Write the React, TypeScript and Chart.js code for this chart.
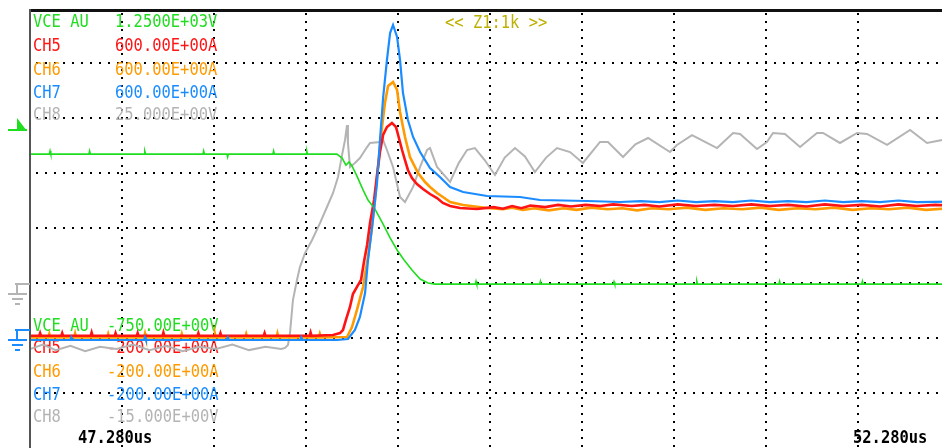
import React, { useEffect, useRef } from "react";
import { Chart, registerables } from "chart.js";

Chart.register(...registerables);

// ---------- data (time in µs, values in channel units) ----------
const timeWindowUs = [47.28, 52.28];
const timeLabels = ["47.280us", "52.280us"];
const vceRange = [-750, 1250];
const currentRange = [-200, 600];
const ch8Range = [-15, 25];
const zoomLabel = "<< Z1:1k >>";

const channelNames = ["VCE AU", "CH5", "CH6", "CH7", "CH8"];
const topScaleLabels = ["1.2500E+03V", "600.00E+00A", "600.00E+00A", "600.00E+00A", "25.000E+00V"];
const bottomScaleLabels = ["-750.00E+00V", "-200.00E+00A", "-200.00E+00A", "-200.00E+00A", "-15.000E+00V"];

const vceTrace = [
  [47.28, 586], [47.385, 586], [47.389, 600], [47.393, 586],
  [47.60, 586], [47.604, 600], [47.608, 586],
  [47.90, 586], [47.904, 598], [47.908, 586],
  [48.22, 586], [48.224, 600], [48.228, 586],
  [48.35, 586], [48.354, 573], [48.358, 586],
  [48.60, 586], [48.604, 600], [48.608, 586],
  [48.78, 586], [48.784, 600], [48.788, 586],
  [48.948, 586], [48.976, 568], [48.997, 536], [49.014, 550], [49.030, 532],
  [49.057, 486], [49.090, 423], [49.117, 377], [49.155, 336], [49.199, 268],
  [49.237, 205], [49.275, 150], [49.313, 105], [49.356, 59], [49.400, 18],
  [49.443, 0], [49.481, -5],
  [49.70, -5], [49.704, 8], [49.708, -5],
  [50.05, -5], [50.054, 8], [50.058, -5],
  [50.45, -5], [50.454, 6], [50.458, -5],
  [50.90, -5], [50.904, 8], [50.908, -5],
  [51.35, -5], [51.354, 8], [51.358, -5],
  [51.80, -5], [51.804, 8], [51.808, -5],
  [52.28, -5],
];

const ch5Trace = [
  [47.28, 4], [47.33, 4], [47.335, 9], [47.34, 4], [47.45, 4], [47.455, 9], [47.46, 4],
  [47.61, 4], [47.615, 10], [47.62, 4], [47.74, 4], [47.745, 9], [47.75, 4],
  [47.86, 4], [47.865, 9], [47.87, 4], [48.00, 4], [48.005, 10], [48.01, 4],
  [48.19, 4], [48.195, 9], [48.20, 4], [48.31, 4], [48.315, 9], [48.32, 4],
  [48.55, 4], [48.555, 9], [48.56, 4], [48.80, 4], [48.805, 10], [48.81, 4],
  [48.927, 5.5], [48.965, 9], [48.981, 14.6], [48.997, 32.8], [49.019, 56.4],
  [49.035, 80], [49.057, 92.8], [49.079, 105.5], [49.095, 138.2], [49.112, 169.1],
  [49.128, 209.1], [49.150, 251], [49.166, 296.4], [49.182, 338.2], [49.199, 369.1],
  [49.220, 383.7], [49.247, 391], [49.269, 383.7], [49.285, 363.6], [49.302, 341.8],
  [49.318, 323.6], [49.334, 305.5], [49.356, 290.9], [49.383, 280], [49.416, 270.9],
  [49.454, 261.8], [49.492, 254.5], [49.524, 245.5], [49.563, 240], [49.617, 236.4],
  [49.709, 234.5],
  [49.80, 238], [49.85, 235], [49.90, 240], [49.95, 236], [50.00, 241], [50.08, 238],
  [50.15, 242], [50.22, 239], [50.30, 242], [50.38, 240], [50.45, 243], [50.55, 240],
  [50.62, 242], [50.70, 239], [50.80, 243], [50.90, 240], [51.00, 242], [51.10, 240],
  [51.20, 243], [51.30, 240], [51.40, 242], [51.50, 239], [51.60, 243], [51.70, 240],
  [51.80, 242], [51.90, 239], [52.00, 243], [52.10, 240], [52.20, 242], [52.28, 241],
];

const ch6Trace = [
  [47.28, 1], [47.38, 1], [47.385, 7], [47.39, 1], [47.52, 1], [47.525, 8], [47.53, 1],
  [47.70, 1], [47.705, 7], [47.71, 1], [47.90, 1], [47.905, 8], [47.91, 1],
  [48.10, 1], [48.105, 7], [48.11, 1], [48.28, 1], [48.285, 8], [48.29, 1],
  [48.45, 1], [48.455, 7], [48.46, 1], [48.62, 1], [48.625, 8], [48.63, 1],
  [48.85, 1], [48.855, 7], [48.86, 1],
  [49.003, 1.8], [49.030, 20], [49.057, 51], [49.090, 92.8], [49.117, 147.3],
  [49.139, 201.8], [49.155, 251], [49.171, 310.9], [49.193, 383.7], [49.209, 427.3],
  [49.226, 458.2], [49.253, 465.5], [49.275, 450.9], [49.291, 410.9], [49.318, 365.5],
  [49.345, 329.1], [49.389, 300], [49.427, 283.6], [49.454, 274.5], [49.492, 263.6],
  [49.524, 256.4], [49.563, 247.3], [49.634, 241.8], [49.764, 236.4],
  [49.85, 234], [49.90, 237], [49.96, 233], [50.02, 236], [50.10, 232], [50.18, 236],
  [50.25, 233], [50.33, 237], [50.42, 234], [50.50, 236], [50.58, 232], [50.66, 236],
  [50.75, 234], [50.85, 237], [50.95, 233], [51.05, 236], [51.15, 234], [51.25, 237],
  [51.35, 233], [51.45, 236], [51.55, 234], [51.65, 237], [51.75, 233], [51.85, 236],
  [51.95, 234], [52.05, 237], [52.15, 233], [52.28, 236],
];

const ch7Trace = [
  [47.28, -3.6], [47.50, -3.6], [47.505, 1], [47.51, -3.6], [47.90, -3.6], [47.905, 1],
  [47.91, -3.6], [48.35, -3.6], [48.355, 1], [48.36, -3.6], [48.75, -3.6], [48.755, 1],
  [48.76, -3.6], [48.95, -3.6],
  [49.008, -1.8], [49.046, 14.6], [49.073, 38.2], [49.101, 81.8], [49.117, 141.8],
  [49.139, 201.8], [49.166, 281.8], [49.182, 360], [49.199, 436.4], [49.220, 505.5],
  [49.237, 554.5], [49.253, 569.1], [49.275, 547.3], [49.291, 505.5], [49.307, 445.5],
  [49.334, 396.4], [49.362, 365.5], [49.400, 338.2], [49.454, 309.1], [49.508, 292.7],
  [49.563, 274.5], [49.634, 265.5], [49.764, 258.2], [49.943, 256.4], [50.052, 250.9],
  [50.307, 249.1], [50.487, 247.3],
  [50.60, 249], [50.70, 247], [50.80, 250], [50.90, 247], [51.00, 249], [51.10, 247],
  [51.20, 250], [51.30, 247], [51.40, 249], [51.50, 247], [51.60, 250], [51.70, 247],
  [51.80, 249], [51.90, 247], [52.00, 250], [52.10, 247], [52.28, 248],
];

const ch8Trace = [
  [47.28, -6.0], [47.35, -5.6], [47.42, -6.1], [47.50, -5.7], [47.58, -6.2], [47.66, -5.8],
  [47.75, -6.0], [47.84, -5.6], [47.93, -6.1], [48.02, -5.7], [48.11, -6.2], [48.20, -5.8],
  [48.29, -6.0], [48.38, -5.6], [48.47, -6.1], [48.56, -5.8], [48.645, -6.0], [48.666, -5.9],
  [48.682, -5.64], [48.693, -4.55], [48.709, -1.55], [48.731, 0.27], [48.747, 1.45],
  [48.775, 2.73], [48.813, 3.91], [48.856, 5.45], [48.894, 6.91], [48.927, 8.18],
  [48.954, 9.64], [48.976, 11.64], [48.992, 13.0], [49.003, 14.36], [49.008, 12.73],
  [49.019, 10.55], [49.046, 10.91], [49.073, 11.36], [49.112, 12.36], [49.128, 12.73],
  [49.182, 12.82], [49.193, 13.27], [49.220, 12.09], [49.253, 10.55], [49.291, 7.82],
  [49.318, 7.36], [49.362, 8.73], [49.400, 10.55], [49.438, 12.09], [49.454, 12.27],
  [49.492, 10.55], [49.563, 9.18], [49.610, 10.9], [49.655, 12.09], [49.698, 12.27],
  [49.750, 11.2], [49.807, 9.82], [49.860, 11.4], [49.916, 12.27], [49.970, 11.5],
  [50.024, 10.09], [50.085, 11.4], [50.144, 12.27], [50.215, 11.9], [50.285, 10.91],
  [50.378, 12.82], [50.421, 12.82], [50.503, 11.45], [50.570, 12.6], [50.639, 13.18],
  [50.758, 11.91], [50.796, 12.55], [50.878, 13.45], [50.959, 12.73], [51.014, 12.27],
  [51.101, 13.64], [51.139, 13.55], [51.231, 12.18], [51.285, 12.82], [51.318, 13.64],
  [51.383, 13.55], [51.465, 12.36], [51.557, 13.64], [51.590, 13.64], [51.682, 12.73],
  [51.775, 13.64], [51.829, 13.55], [51.938, 12.55], [52.063, 13.91], [52.155, 12.73],
  [52.237, 13.0], [52.28, 13.36],
];

// ---------- styling ----------
const COLORS = ["#1fdd1f", "#ff1414", "#ff9a00", "#1a8cff", "#b4b4b4"];
const FONT = "'DejaVu Sans Mono', monospace";

function txt(ctx: CanvasRenderingContext2D, s: string, x: number, y: number, color: string, bold = false) {
  ctx.font = `${bold ? "bold " : ""}18px ${FONT}`;
  ctx.fillStyle = color;
  ctx.textBaseline = "alphabetic";
  ctx.textAlign = "left";
  ctx.fillText(s, x, y, s.length * 9.3);
}

const scopePlugin = {
  id: "scope",
  beforeDatasetsDraw(chart: any) {
    const { ctx, chartArea, scales } = chart;
    const xs = scales.x;
    const yv = scales.yV;
    ctx.save();
    ctx.fillStyle = "#000";
    // vertical dotted grid lines every 0.5 µs
    for (let k = 1; k < 10; k++) {
      const px = Math.round(xs.getPixelForValue(timeWindowUs[0] + k * 0.5));
      for (let py = chartArea.top + 5; py < chartArea.bottom; py += 8) ctx.fillRect(px - 1, py, 2, 2);
    }
    // horizontal dotted grid lines every division (250 V on VCE scale)
    for (let v = vceRange[0] + 250; v < vceRange[1]; v += 250) {
      const py = Math.round(yv.getPixelForValue(v));
      for (let px = chartArea.left + 6; px < chartArea.right; px += 9) ctx.fillRect(px, py - 1, 2, 2);
    }
    // channel labels (top = upper scale limit, bottom = lower scale limit)
    const topBase = [27, 51, 75, 98, 120];
    const botBase = [331, 353, 377, 400, 422];
    channelNames.forEach((n, i) => {
      txt(ctx, n, 33, topBase[i], COLORS[i]);
      txt(ctx, topScaleLabels[i], 115, topBase[i], COLORS[i]);
      txt(ctx, n, 33, botBase[i], COLORS[i]);
      txt(ctx, bottomScaleLabels[i], 107, botBase[i], COLORS[i]);
    });
    txt(ctx, zoomLabel, 445, 28, "#bdb000");
    txt(ctx, timeLabels[0], 78, 443, "#000", true);
    txt(ctx, timeLabels[1], 853, 443, "#000", true);
    ctx.restore();
  },
  afterDatasetsDraw(chart: any) {
    const { ctx, chartArea } = chart;
    ctx.save();
    // frame
    ctx.fillStyle = "#111";
    ctx.fillRect(chartArea.left - 1, 9, 960, 3);
    ctx.fillStyle = "#555";
    ctx.fillRect(chartArea.left - 1, 9, 2, chartArea.bottom);
    // trigger marker (green)
    ctx.fillStyle = COLORS[0];
    ctx.beginPath();
    ctx.moveTo(17, 118);
    ctx.lineTo(27, 131);
    ctx.lineTo(17, 131);
    ctx.closePath();
    ctx.fill();
    ctx.fillRect(8, 129, 19, 2);
    // ground markers
    const ground = (y: number, color: string) => {
      ctx.fillStyle = color;
      ctx.fillRect(15, y, 15, 2);
      ctx.fillRect(16, y, 2, 10);
      ctx.fillRect(8, y + 10, 19, 2);
      ctx.fillRect(12, y + 15, 11, 2);
      ctx.fillRect(15, y + 20, 5, 2);
    };
    ground(283, COLORS[4]);
    ground(329, COLORS[3]);
    ctx.restore();
  },
};

const toXY = (arr: number[][]) => arr.map(([x, y]) => ({ x, y }));

export default function App() {
  const ref = useRef<HTMLCanvasElement>(null);
  useEffect(() => {
    const chart = new Chart(ref.current as HTMLCanvasElement, {
      type: "line",
      data: {
        datasets: [
          { label: "CH7", data: toXY(ch7Trace), yAxisID: "yA", borderColor: COLORS[3], borderWidth: 2.2, order: 0 },
          { label: "VCE AU", data: toXY(vceTrace), yAxisID: "yV", borderColor: COLORS[0], borderWidth: 1.6, order: 1 },
          { label: "CH5", data: toXY(ch5Trace), yAxisID: "yA", borderColor: COLORS[1], borderWidth: 2.6, order: 2 },
          { label: "CH6", data: toXY(ch6Trace), yAxisID: "yA", borderColor: COLORS[2], borderWidth: 2.6, order: 3 },
          { label: "CH8", data: toXY(ch8Trace), yAxisID: "y8", borderColor: COLORS[4], borderWidth: 2, order: 4 },
        ] as any,
      },
      options: {
        animation: false,
        responsive: false,
        events: [],
        layout: { padding: { left: 30, top: 8, right: 10, bottom: 12 } },
        elements: { point: { radius: 0 }, line: { tension: 0, fill: false } },
        plugins: { legend: { display: false }, tooltip: { enabled: false } },
        scales: {
          x: { type: "linear", min: timeWindowUs[0], max: timeWindowUs[1], display: false },
          yV: { type: "linear", min: vceRange[0], max: vceRange[1], display: false },
          yA: { type: "linear", min: currentRange[0], max: currentRange[1], display: false },
          y8: { type: "linear", min: ch8Range[0], max: ch8Range[1], display: false },
        },
      } as any,
      plugins: [scopePlugin],
    });
    return () => chart.destroy();
  }, []);
  return (
    <div style={{ position: "fixed", left: 0, top: 0, width: 942, height: 448, overflow: "hidden", background: "#fff" }}>
      <canvas ref={ref} width={960} height={460} style={{ display: "block", width: 960, height: 460 }} />
    </div>
  );
}
